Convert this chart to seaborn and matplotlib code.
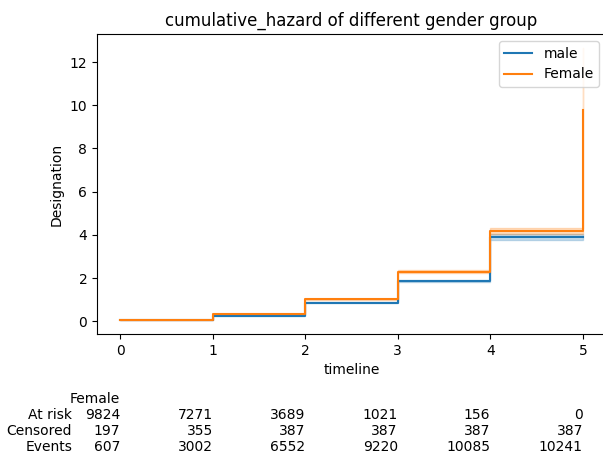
import matplotlib
matplotlib.use("Agg")
import matplotlib.pyplot as plt
import matplotlib.transforms as mtransforms
import numpy as np
import pandas as pd
import seaborn as sns

# Nelson-Aalen cumulative hazard estimates at each time point
timeline = [0, 1, 2, 3, 4, 5]

male_hazard = [0.045, 0.26, 0.85, 1.87, 3.89, 3.89]
male_lower = [0.041, 0.25, 0.83, 1.83, 3.77, 3.77]
male_upper = [0.049, 0.27, 0.87, 1.91, 4.02, 4.02]

female_hazard = [0.0588, 0.338, 1.008, 2.293, 4.172, 9.80]
female_lower = [0.0543, 0.326, 0.983, 2.236, 4.019, 7.58]
female_upper = [0.0637, 0.350, 1.034, 2.352, 4.330, 12.67]

# At-risk table for the Female group
table_group = "Female"
table_rows = ["At risk", "Censored", "Events"]
at_risk = [9824, 7271, 3689, 1021, 156, 0]
censored = [197, 355, 387, 387, 387, 387]
events = [607, 3002, 6552, 9220, 10085, 10241]

fig = plt.figure(figsize=(6.03, 4.57), dpi=100)
ax = fig.add_axes([0.1609, 0.2691, 0.8441, 0.6565])

groups = [
    ("male", male_hazard, male_lower, male_upper, "tab:blue"),
    ("Female", female_hazard, female_lower, female_upper, "tab:orange"),
]
for name, haz, lo, hi, color in groups:
    df = pd.DataFrame({"timeline": timeline, "hazard": haz})
    sns.lineplot(data=df, x="timeline", y="hazard", drawstyle="steps-post",
                 color=color, label=name, ax=ax, linewidth=1.5)
    ax.fill_between(timeline, lo, hi, step="post", color=color, alpha=0.25,
                    linewidth=1.0)

ax.set_title("cumulative_hazard of different gender group", fontsize=12)
ax.set_xlabel("timeline")
ax.set_ylabel("Designation")
ax.set_xticks(timeline)
ax.margins(x=0.05, y=0.05)
ax.legend(loc="upper right")

# At-risk counts below the axis, right-aligned under each tick
trans = mtransforms.blended_transform_factory(ax.transData, ax.transAxes)
counts = [at_risk, censored, events]
table_y = -0.192
for i, t in enumerate(timeline):
    col = [c[i] for c in counts]
    head = table_group if i == 0 else " "
    txt = head + "\n" + "\n".join(str(c) for c in col)
    ax.text(t, table_y, txt, transform=trans, ha="right", va="top",
            fontsize=10, linespacing=1.2)

# Row headers, right-aligned just left of the first column
label_trans = trans + mtransforms.ScaledTranslation(-34.5 / 72, 0, fig.dpi_scale_trans)
ax.text(timeline[0], table_y, " \n" + "\n".join(table_rows),
        transform=label_trans, ha="right", va="top", fontsize=10,
        linespacing=1.2)

fig.savefig("out.png", dpi=100)
